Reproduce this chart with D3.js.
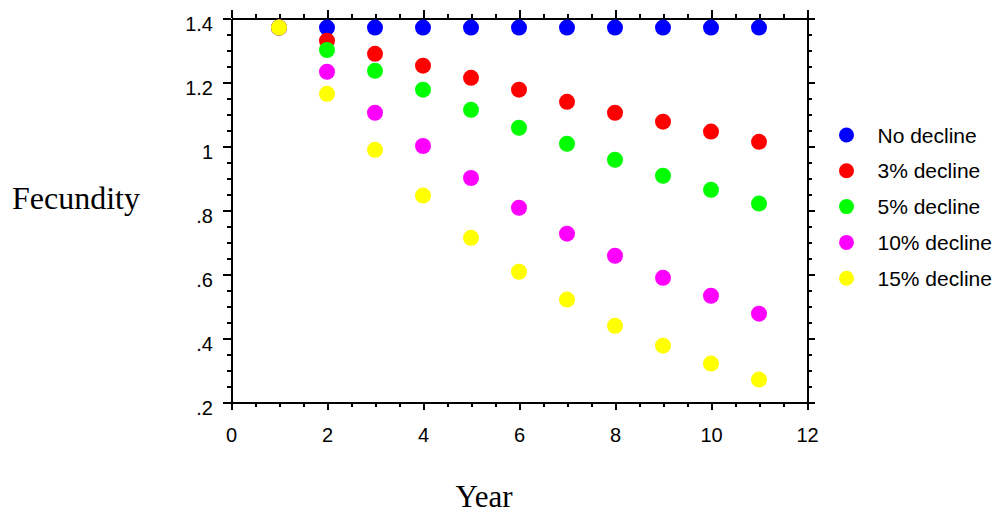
<!DOCTYPE html>
<html>
<head>
<meta charset="utf-8">
<script src="https://cdn.jsdelivr.net/npm/d3@7"></script>
<style>
  body { margin: 0; background: #fff; }
  svg { display: block; }
  .axis path, .axis line { stroke: #000; stroke-width: 2; shape-rendering: crispEdges; }
  .axis text { font-family: "Liberation Sans", Arial, sans-serif; font-size: 20px; fill: #000; }
</style>
</head>
<body>
<svg id="chart" width="997" height="513"></svg>
<script>
// data
const years = [1, 2, 3, 4, 5, 6, 7, 8, 9, 10, 11];
const noDecline   = [1.37, 1.37, 1.37, 1.37, 1.37, 1.37, 1.37, 1.37, 1.37, 1.37, 1.37];
const decline3    = [1.37, 1.329, 1.288, 1.251, 1.213, 1.176, 1.138, 1.104, 1.076, 1.045, 1.013];
const decline5    = [1.37, 1.30, 1.235, 1.176, 1.113, 1.057, 1.007, 0.957, 0.907, 0.863, 0.82];
const decline10   = [1.37, 1.232, 1.104, 1.0, 0.90, 0.807, 0.726, 0.657, 0.588, 0.532, 0.476];
const decline15   = [1.37, 1.163, 0.988, 0.845, 0.713, 0.607, 0.52, 0.438, 0.376, 0.32, 0.27];
const seriesNames = ['No decline', '3% decline', '5% decline', '10% decline', '15% decline'];
const seriesColors = ['#0000ff', '#ff0000', '#00ff00', '#ff00ff', '#ffff00'];
const xTicks = [0, 2, 4, 6, 8, 10, 12];
const yTicks = [0.2, 0.4, 0.6, 0.8, 1.0, 1.2, 1.4];
const yTickLabels = ['.2', '.4', '.6', '.8', '1', '1.2', '1.4'];

const series = [noDecline, decline3, decline5, decline10, decline15].map((vals, i) => ({
  name: seriesNames[i],
  color: seriesColors[i],
  values: years.map((yr, j) => ({ x: yr, y: vals[j] }))
}));

const svg = d3.select('#chart');
const plotLeft = 231, plotRight = 807, plotTop = 18, plotBottom = 402;

const x = d3.scaleLinear().domain([0, 12]).range([plotLeft, plotRight]);
const y = d3.scaleLinear().domain([0.2, 1.4]).range([plotBottom, plotTop]);

const xMinor = d3.range(0, 12.01, 0.5);
const yMinor = d3.range(0.2, 1.401, 0.05);

// minor ticks, all four sides
svg.append('g').attr('class', 'axis').attr('transform', `translate(0,${plotBottom})`)
  .call(d3.axisBottom(x).tickValues(xMinor).tickSize(4.5).tickSizeOuter(0).tickFormat(''));
svg.append('g').attr('class', 'axis').attr('transform', `translate(0,${plotTop})`)
  .call(d3.axisTop(x).tickValues(xMinor).tickSize(4.5).tickSizeOuter(0).tickFormat(''));
svg.append('g').attr('class', 'axis').attr('transform', `translate(${plotLeft},0)`)
  .call(d3.axisLeft(y).tickValues(yMinor).tickSize(4.5).tickSizeOuter(0).tickFormat(''));
svg.append('g').attr('class', 'axis').attr('transform', `translate(${plotRight},0)`)
  .call(d3.axisRight(y).tickValues(yMinor).tickSize(4.5).tickSizeOuter(0).tickFormat(''));

// major ticks
svg.append('g').attr('class', 'axis').attr('transform', `translate(0,${plotBottom})`)
  .call(d3.axisBottom(x).tickValues(xTicks).tickSize(8).tickSizeOuter(0).tickPadding(18).tickFormat(d3.format('d')));
svg.append('g').attr('class', 'axis').attr('transform', `translate(0,${plotTop})`)
  .call(d3.axisTop(x).tickValues(xTicks).tickSize(8).tickSizeOuter(0).tickFormat(''));
svg.append('g').attr('class', 'axis').attr('transform', `translate(${plotLeft},0)`)
  .call(d3.axisLeft(y).tickValues(yTicks).tickSize(8).tickSizeOuter(0).tickPadding(10)
    .tickFormat((d, i) => yTickLabels[i]))
  .selectAll('text').attr('dy', '0.6em');
svg.append('g').attr('class', 'axis').attr('transform', `translate(${plotRight},0)`)
  .call(d3.axisRight(y).tickValues(yTicks).tickSize(8).tickSizeOuter(0).tickFormat(''));

// points
series.forEach(s => {
  svg.append('g')
    .selectAll('circle')
    .data(s.values)
    .join('circle')
    .attr('cx', d => x(d.x))
    .attr('cy', d => y(d.y))
    .attr('r', 8)
    .attr('fill', s.color);
});

// legend
const legend = svg.append('g').attr('transform', 'translate(846.5,135)');
const rows = legend.selectAll('g')
  .data(series)
  .join('g')
  .attr('transform', (d, i) => `translate(0,${i * 35.8})`);
rows.append('circle').attr('r', 7.5).attr('fill', d => d.color);
rows.append('text')
  .attr('x', 31)
  .attr('y', 7.5)
  .style('font-family', '"Liberation Sans", Arial, sans-serif')
  .style('font-size', '21px')
  .text(d => d.name);

// axis titles
svg.append('text')
  .attr('x', 12).attr('y', 209)
  .style('font-family', '"Liberation Serif", "Times New Roman", serif')
  .style('font-size', '32px')
  .text('Fecundity');
svg.append('text')
  .attr('x', 484).attr('y', 507)
  .attr('text-anchor', 'middle')
  .style('font-family', '"Liberation Serif", "Times New Roman", serif')
  .style('font-size', '31px')
  .text('Year');
</script>
</body>
</html>
